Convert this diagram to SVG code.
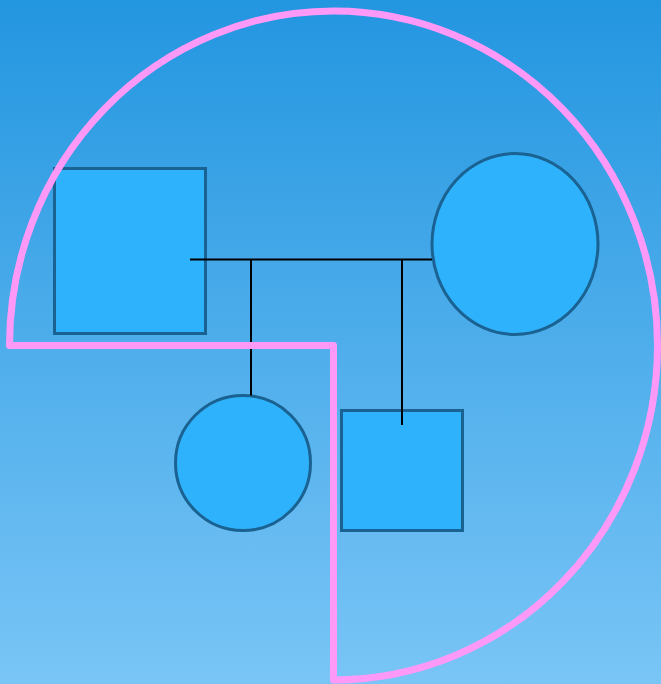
<svg xmlns="http://www.w3.org/2000/svg" width="661" height="684" viewBox="0 0 661 684">
<defs>
<linearGradient id="bg" x1="0" y1="0" x2="0" y2="1">
<stop offset="0" stop-color="#2396e0"/>
<stop offset="1" stop-color="#79c5f6"/>
</linearGradient>
<style>
.node{fill:#2eb2fc;stroke:#1a6292;stroke-width:3}
.conn{stroke:#000;stroke-width:2;fill:none}
.frame{fill:none;stroke:#ff99f8;stroke-width:7;stroke-linejoin:round;stroke-linecap:round}
</style>
</defs>
<rect width="661" height="684" fill="url(#bg)"/>
<g id="father"><rect class="node" x="54.5" y="168.5" width="151" height="165"/></g>
<g id="mother"><ellipse class="node" cx="515" cy="244" rx="83" ry="90.5"/></g>
<g id="daughter"><circle class="node" cx="243" cy="463" r="67.5"/></g>
<g id="son"><rect class="node" x="341.5" y="410.5" width="121" height="120"/></g>
<g id="connectors">
<line class="conn" x1="190" y1="259.5" x2="432" y2="259.5"/>
<line class="conn" x1="251" y1="259.5" x2="251" y2="395.5"/>
<line class="conn" x1="402" y1="259.5" x2="402" y2="425"/>
</g>
<path class="frame" d="M9.5,345.5 L333.5,345.5 L333.5,680 A324 334.5 0 1 0 9.5,345.5 Z"/>
</svg>
